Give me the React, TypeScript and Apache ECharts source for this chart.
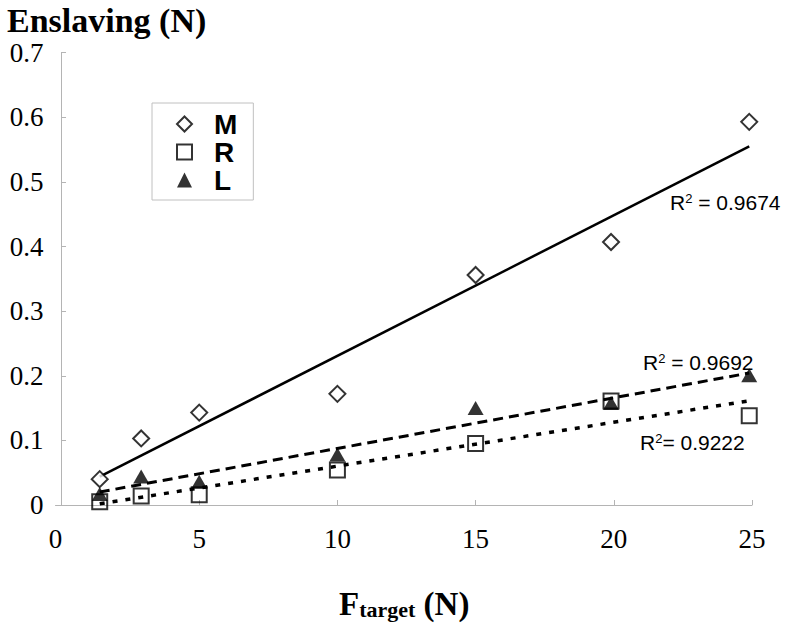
import React, { useEffect, useRef } from "react";
import * as echarts from "echarts";

// Target force (N) for each trial level
const forceX = [1.4, 2.9, 5.0, 10.0, 15.0, 19.9, 24.9];
// Enslaving (N) per finger group
const seriesM = [0.04, 0.103, 0.143, 0.172, 0.356, 0.407, 0.593];
const seriesR = [0.005, 0.014, 0.016, 0.054, 0.095, 0.161, 0.138];
const seriesL = [0.017, 0.044, 0.036, 0.078, 0.15, 0.158, 0.201];
const X_MIN = -0.2;
const xTickValues = [5, 10, 15, 20, 25];
const xLabelValues = [X_MIN, 5, 10, 15, 20, 25];
const r2M = "0.9674";
const r2L = "0.9692";
const r2R = "0.9222";

function trend(xs: number[], ys: number[]) {
  const n = xs.length;
  const mx = xs.reduce((a, b) => a + b, 0) / n;
  const my = ys.reduce((a, b) => a + b, 0) / n;
  let sxx = 0;
  let sxy = 0;
  for (let i = 0; i < n; i++) {
    sxx += (xs[i] - mx) * (xs[i] - mx);
    sxy += (xs[i] - mx) * (ys[i] - my);
  }
  const b = sxy / sxx;
  const a = my - b * mx;
  const x0 = Math.min(...xs);
  const x1 = Math.max(...xs);
  return [
    [x0, a + b * x0],
    [x1, a + b * x1],
  ];
}

const pts = (ys: number[]) => forceX.map((x, i) => [x, ys[i]]);

const SERIF = "'Liberation Serif', 'Times New Roman', serif";
const SANS = "'Liberation Sans', Arial, sans-serif";

const r2Rich = {
  r: { fontFamily: SANS, fontSize: 21, lineHeight: 21, color: "#000" },
  s: { fontFamily: SANS, fontSize: 13, lineHeight: 21, color: "#000", verticalAlign: "top" },
};

export default function App() {
  const ref = useRef<HTMLDivElement>(null);
  useEffect(() => {
    if (!ref.current) return;
    const chart = echarts.init(ref.current, undefined, { renderer: "svg" });
    chart.setOption({
      animation: false,
      backgroundColor: "#fff",
      textStyle: { fontFamily: SERIF },
      grid: { left: 55.5, right: 48, top: 52.7, bottom: 125 },
      xAxis: {
        type: "value",
        min: X_MIN,
        max: 25,
        axisLine: { lineStyle: { color: "#b4b4b4", width: 1 } },
        axisTick: { inside: true, length: 5, lineStyle: { color: "#b4b4b4" }, customValues: xTickValues },
        axisLabel: {
          fontFamily: SERIF,
          fontSize: 27,
          color: "#000",
          margin: 20,
          customValues: xLabelValues,
          formatter: (v: number) => (v < 0 ? "0" : String(v)),
        },
        splitLine: { show: false },
      },
      yAxis: {
        type: "value",
        min: 0,
        max: 0.7,
        interval: 0.1,
        axisLine: { show: true, lineStyle: { color: "#b4b4b4", width: 1 } },
        axisTick: { show: true, inside: true, length: 5, lineStyle: { color: "#b4b4b4" } },
        axisLabel: {
          fontFamily: SERIF,
          fontSize: 27,
          color: "#000",
          margin: 12,
          padding: [12, 0, 0, 0],
          formatter: (v: number) => String(Math.round(v * 10) / 10),
        },
        splitLine: { show: false },
      },
      legend: {
        data: ["M", "R", "L"],
        orient: "vertical",
        left: 152,
        top: 103,
        padding: [7, 16, 6, 24],
        itemGap: 0,
        itemWidth: 15,
        itemHeight: 15,
        borderColor: "#c0c0c0",
        borderWidth: 1,
        textStyle: {
          fontFamily: SANS,
          fontWeight: "bold",
          fontSize: 28,
          lineHeight: 28,
          color: "#000",
          padding: [0, 0, 0, 17],
        },
      },
      series: [
        {
          type: "line",
          name: "M fit",
          data: trend(forceX, seriesM),
          symbol: "none",
          lineStyle: { color: "#000", width: 2.5, type: "solid" },
          z: 1,
        },
        {
          type: "line",
          name: "L fit",
          data: trend(forceX, seriesL),
          symbol: "none",
          lineStyle: { color: "#000", width: 3, type: [10, 6] },
          z: 1,
        },
        {
          type: "line",
          name: "R fit",
          data: trend(forceX, seriesR),
          symbol: "none",
          lineStyle: { color: "#000", width: 3.5, type: [5, 8] },
          z: 1,
        },
        {
          type: "scatter",
          name: "M",
          data: pts(seriesM),
          symbol: "diamond",
          symbolSize: 16,
          itemStyle: { color: "#fff", borderColor: "#000", borderWidth: 2 },
          z: 3,
        },
        {
          type: "scatter",
          name: "R",
          data: pts(seriesR),
          symbol: "rect",
          symbolSize: 15,
          itemStyle: { color: "rgba(255,255,255,0)", borderColor: "#000", borderWidth: 2 },
          z: 3,
        },
        {
          type: "scatter",
          name: "L",
          data: pts(seriesL),
          symbol: "triangle",
          symbolSize: [16, 14],
          itemStyle: { color: "#000", borderColor: "#000", borderWidth: 0 },
          z: 4,
        },
      ],
      graphic: [
        {
          type: "text",
          left: 7,
          top: 3,
          style: {
            text: "Enslaving (N)",
            fontFamily: SERIF,
            fontWeight: "bold",
            fontSize: 34,
            fill: "#000",
          },
        },
        {
          type: "text",
          left: 339,
          top: 587,
          style: {
            text: "{a|F}{b|target}{a| (N)}",
            rich: {
              a: { fontFamily: SERIF, fontWeight: "bold", fontSize: 33, lineHeight: 33, verticalAlign: "bottom", color: "#000" },
              b: { fontFamily: SERIF, fontWeight: "bold", fontSize: 22, lineHeight: 22, verticalAlign: "bottom", color: "#000" },
            },
          },
        },
        {
          type: "text",
          left: 670,
          top: 192,
          style: { text: "{r|R}{s|2}{r| = " + r2M + "}", rich: r2Rich },
        },
        {
          type: "text",
          left: 643,
          top: 352,
          style: { text: "{r|R}{s|2}{r| = " + r2L + "}", rich: r2Rich },
        },
        {
          type: "text",
          left: 640,
          top: 432,
          style: { text: "{r|R}{s|2}{r|= " + r2R + "}", rich: r2Rich },
        },
      ],
    });
    return () => chart.dispose();
  }, []);
  return <div ref={ref} style={{ position: "fixed", left: 0, top: 0, width: 800, height: 630 }} />;
}
